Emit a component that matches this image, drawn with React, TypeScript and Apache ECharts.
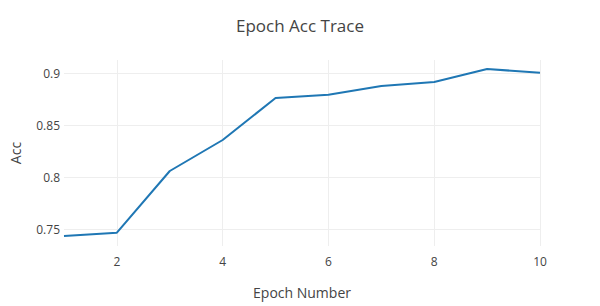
import React, { useEffect, useRef } from "react";
import * as echarts from "echarts";

const epochs = [1, 2, 3, 4, 5, 6, 7, 8, 9, 10];
const acc = [0.7433, 0.7465, 0.8058, 0.8356, 0.876, 0.879, 0.8875, 0.8913, 0.9038, 0.9003];
const xTicks = [2, 4, 6, 8, 10];
const yTicks = [0.75, 0.8, 0.85, 0.9];

export default function App() {
  const ref = useRef<HTMLDivElement>(null);
  useEffect(() => {
    if (!ref.current) return;
    const chart = echarts.init(ref.current, undefined, { renderer: "svg" });
    const font = "'Open Sans', 'Noto Sans', sans-serif";
    chart.setOption({
      animation: false,
      backgroundColor: "#fff",
      textStyle: { fontFamily: font },
      title: {
        text: "Epoch Acc Trace",
        left: "center",
        top: 12,
        textStyle: { fontFamily: font, fontSize: 17, fontWeight: "normal", color: "#444" },
      },
      grid: { left: 60, right: 60, top: 60, bottom: 60, containLabel: false },
      xAxis: {
        type: "value",
        min: 1,
        max: 10,
        name: "Epoch Number",
        nameLocation: "middle",
        nameGap: 39,
        nameTextStyle: { fontFamily: font, fontSize: 14, color: "#444" },
        axisLine: { show: false },
        axisTick: { show: false, customValues: xTicks },
        axisLabel: { customValues: xTicks, color: "#444", fontSize: 12, fontFamily: font, margin: 9 },
        splitLine: { show: true, lineStyle: { color: "#eee", width: 1 } },
      },
      yAxis: {
        type: "value",
        min: 0.7337,
        max: 0.9125,
        name: "Acc",
        nameLocation: "middle",
        nameGap: 42,
        nameTextStyle: { fontFamily: font, fontSize: 14, color: "#444" },
        axisLine: { show: false },
        axisTick: { show: false, customValues: yTicks },
        axisLabel: {
          customValues: yTicks,
          color: "#444",
          fontSize: 12,
          fontFamily: font,
          margin: 4,
          formatter: (v: number) => String(Number(v.toFixed(2))),
        },
        splitLine: { show: true, lineStyle: { color: "#eee", width: 1 } },
      },
      series: [
        {
          type: "line",
          data: epochs.map((e, i) => [e, acc[i]]),
          showSymbol: false,
          symbol: "none",
          lineStyle: { color: "#1f77b4", width: 2 },
          itemStyle: { color: "#1f77b4" },
        },
      ],
    });
    return () => chart.dispose();
  }, []);
  return <div ref={ref} style={{ width: 600, height: 306, position: "absolute", left: 0, top: 0 }} />;
}
